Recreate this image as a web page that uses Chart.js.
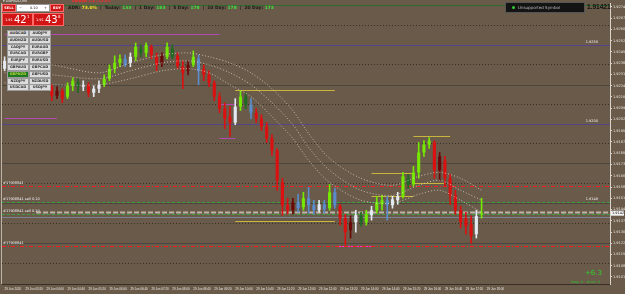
<!DOCTYPE html>
<html>
<head>
<meta charset="utf-8">
<script src="https://cdn.jsdelivr.net/npm/chart.js@4.4.0/dist/chart.umd.min.js"></script>
<style>
  html, body { margin: 0; padding: 0; background: #6a5a49; overflow: hidden; }
  #wrap { position: relative; width: 625px; height: 294px; }
  #chart { position: absolute; left: 0; top: 0; }
  .ov { position: absolute; font-family: "DejaVu Sans", sans-serif; white-space: nowrap; line-height: 1; }
  .btn { position: absolute; width: 20px; height: 5px; background: #dcdcdc; border: 1px solid #9a9a9a;
         font: bold 3.5px "DejaVu Sans", sans-serif; color: #333; text-align: center; line-height: 5px; }
  .btn.on { background: #1f7a1f; color: #b8d040; }
  .red { position: absolute; background: #d11414; border: 1px solid #ff6a6a; color: #fff; }
</style>
</head>
<body>
<div id="wrap">
  <canvas id="chart" width="625" height="294"></canvas>

  <div class="ov" style="left:3px;top:0px;font-size:3.5px;color:#eee">&#9662; GBPNZD,M5</div>
  <div class="ov" style="left:72px;top:0px;font-size:3.5px;color:#ff2a2a;font-weight:bold">Spread: 1.6 | 13.5%</div>

  <div class="red" style="left:2px;top:4px;width:12px;height:6px;font:bold 3.5px 'DejaVu Sans';text-align:center;line-height:6px">SELL</div>
  <div class="ov" style="left:16px;top:4px;width:32px;height:6px;background:#fff;border:1px solid #999;font-size:3.5px;color:#222;line-height:6px">
    <span style="position:absolute;left:2px">&minus;</span><span style="position:absolute;left:13px">0.10</span><span style="position:absolute;right:2px">+</span>
  </div>
  <div class="red" style="left:50px;top:4px;width:12px;height:6px;font:bold 3.5px 'DejaVu Sans';text-align:center;line-height:6px">BUY</div>
  <div class="red" style="left:2px;top:13px;width:29px;height:11px">
    <span class="ov" style="left:2px;top:5px;font-size:3.5px">1.91</span>
    <span class="ov" style="left:11px;top:1px;font-size:10px">42</span>
    <span class="ov" style="left:24px;top:1px;font-size:4px">1</span>
  </div>
  <div class="red" style="left:33px;top:13px;width:29px;height:11px">
    <span class="ov" style="left:2px;top:5px;font-size:3.5px">1.91</span>
    <span class="ov" style="left:11px;top:1px;font-size:10px">43</span>
    <span class="ov" style="left:24px;top:1px;font-size:4px">8</span>
  </div>

  <div class="ov" style="left:68px;top:6px;font-size:4.4px;font-weight:bold;color:#1a1a1a">
    ADR: <span style="color:#f0e020">73.0%</span> &nbsp;|&nbsp; Today: <span style="color:#3fe03f">133</span>
    &nbsp;|&nbsp; 1 Day: <span style="color:#3fe03f">183</span> &nbsp;|&nbsp; 5 Day: <span style="color:#3fe03f">178</span>
    &nbsp;|&nbsp; 10 Day: <span style="color:#3fe03f">178</span> &nbsp;|&nbsp; 20 Day: <span style="color:#3fe03f">173</span>
  </div>

  <div class="ov" style="left:505px;top:2px;width:78px;height:9px;background:#141414;border:1px solid #555;font-size:4px;color:#bbb;line-height:9px">
    <span style="display:inline-block;width:3px;height:3px;border-radius:2px;background:#3c3;margin:0 3px 0 6px"></span>Unsupported Symbol
  </div>
  <div class="ov" style="left:587px;top:3px;font:bold 6.5px 'Liberation Sans', sans-serif;color:#111">1.91421</div>

  <div class="ov" style="left:585px;top:270px;font-size:7px;color:#2fd02f">+6.3</div>
  <div class="ov" style="left:571px;top:281px;font-size:3.5px;color:#2fc02f">long: 0 &nbsp; short: 0</div>

  <div id="buttons"></div>
</div>

<script>
// 10-minute candles, GBPNZD
const open = [1.92349, 1.92387, 1.92362, 1.92323, 1.92336, 1.92298, 1.92310, 1.92272, 1.92285, 1.92234,
  1.92176, 1.92208, 1.92170, 1.92240, 1.92259, 1.92234, 1.92246, 1.92195, 1.92221, 1.92246,
  1.92285, 1.92349, 1.92387, 1.92413, 1.92387, 1.92426, 1.92477, 1.92451, 1.92490, 1.92426,
  1.92387, 1.92426, 1.92477, 1.92432, 1.92362, 1.92336, 1.92374, 1.92413, 1.92349, 1.92310,
  1.92259, 1.92170, 1.92093, 1.92042, 1.92003, 1.92106, 1.92170, 1.92118, 1.92067, 1.92029,
  1.91978, 1.91901, 1.91824, 1.91619, 1.91472, 1.91440, 1.91491, 1.91459, 1.91517, 1.91472,
  1.91440, 1.91478, 1.91453, 1.91555, 1.91466, 1.91389, 1.91312, 1.91363, 1.91402, 1.91363,
  1.91408, 1.91440, 1.91478, 1.91504, 1.91472, 1.91504, 1.91530, 1.91645, 1.91606, 1.91683,
  1.91811, 1.91862, 1.91875, 1.91696, 1.91760, 1.91645, 1.91536, 1.91440, 1.91389, 1.91350,
  1.91286, 1.91414];
const high = [1.92426, 1.92413, 1.92387, 1.92362, 1.92349, 1.92336, 1.92323, 1.92310, 1.92298, 1.92246,
  1.92234, 1.92221, 1.92259, 1.92291, 1.92285, 1.92272, 1.92259, 1.92240, 1.92272, 1.92310,
  1.92374, 1.92432, 1.92438, 1.92438, 1.92451, 1.92515, 1.92502, 1.92515, 1.92502, 1.92451,
  1.92451, 1.92515, 1.92502, 1.92451, 1.92400, 1.92400, 1.92464, 1.92438, 1.92374, 1.92336,
  1.92272, 1.92195, 1.92131, 1.92106, 1.92157, 1.92208, 1.92195, 1.92157, 1.92093, 1.92054,
  1.92003, 1.91926, 1.91837, 1.91645, 1.91517, 1.91517, 1.91542, 1.91555, 1.91587, 1.91504,
  1.91504, 1.91504, 1.91606, 1.91581, 1.91478, 1.91414, 1.91402, 1.91440, 1.91427, 1.91440,
  1.91466, 1.91530, 1.91536, 1.91530, 1.91530, 1.91555, 1.91683, 1.91670, 1.91722, 1.91875,
  1.91888, 1.91907, 1.91888, 1.91811, 1.91786, 1.91670, 1.91568, 1.91466, 1.91427, 1.91402,
  1.91440, 1.91517];
const low = [1.92336, 1.92336, 1.92304, 1.92285, 1.92272, 1.92272, 1.92246, 1.92246, 1.92208, 1.92144,
  1.92157, 1.92131, 1.92157, 1.92208, 1.92195, 1.92208, 1.92170, 1.92170, 1.92195, 1.92234,
  1.92272, 1.92323, 1.92362, 1.92362, 1.92362, 1.92400, 1.92426, 1.92426, 1.92413, 1.92336,
  1.92362, 1.92413, 1.92413, 1.92349, 1.92221, 1.92310, 1.92362, 1.92246, 1.92272, 1.92234,
  1.92144, 1.92067, 1.91965, 1.91914, 1.91990, 1.92080, 1.92093, 1.92029, 1.92003, 1.91952,
  1.91875, 1.91792, 1.91568, 1.91408, 1.91414, 1.91414, 1.91427, 1.91440, 1.91421, 1.91414,
  1.91427, 1.91421, 1.91440, 1.91453, 1.91344, 1.91216, 1.91261, 1.91299, 1.91338, 1.91344,
  1.91376, 1.91421, 1.91440, 1.91376, 1.91453, 1.91478, 1.91517, 1.91581, 1.91594, 1.91645,
  1.91786, 1.91837, 1.91645, 1.91632, 1.91594, 1.91478, 1.91414, 1.91325, 1.91286, 1.91229,
  1.91261, 1.91389];
const close = [1.92400, 1.92362, 1.92323, 1.92336, 1.92298, 1.92310, 1.92272, 1.92285, 1.92234, 1.92176,
  1.92208, 1.92157, 1.92240, 1.92272, 1.92234, 1.92246, 1.92195, 1.92221, 1.92246, 1.92285,
  1.92349, 1.92387, 1.92413, 1.92374, 1.92426, 1.92490, 1.92451, 1.92502, 1.92438, 1.92374,
  1.92432, 1.92490, 1.92426, 1.92368, 1.92323, 1.92374, 1.92426, 1.92336, 1.92310, 1.92259,
  1.92170, 1.92093, 1.92029, 1.92003, 1.92106, 1.92170, 1.92118, 1.92067, 1.92029, 1.91978,
  1.91901, 1.91824, 1.91632, 1.91472, 1.91440, 1.91491, 1.91453, 1.91517, 1.91472, 1.91440,
  1.91478, 1.91446, 1.91555, 1.91472, 1.91389, 1.91299, 1.91363, 1.91408, 1.91363, 1.91414,
  1.91440, 1.91491, 1.91504, 1.91472, 1.91510, 1.91530, 1.91658, 1.91606, 1.91683, 1.91811,
  1.91862, 1.91888, 1.91696, 1.91786, 1.91645, 1.91536, 1.91440, 1.91363, 1.91338, 1.91274,
  1.91402, 1.91421];

// time axis labels, one every 4 candles
const timeTicks = ['29 Jun 2020', '29 Jun 03:20', '29 Jun 04:00', '29 Jun 04:40', '29 Jun 05:20', '29 Jun 06:00',
  '29 Jun 06:40', '29 Jun 07:20', '29 Jun 08:00', '29 Jun 08:40', '29 Jun 09:20', '29 Jun 10:00',
  '29 Jun 10:40', '29 Jun 11:20', '29 Jun 12:00', '29 Jun 12:40', '29 Jun 13:20', '29 Jun 14:00',
  '29 Jun 14:40', '29 Jun 15:20', '29 Jun 16:00', '29 Jun 16:40', '29 Jun 17:20', '29 Jun 18:00'];
const priceTicks = [1.92746, 1.92674, 1.92602, 1.92529, 1.92457, 1.92385, 1.92312, 1.92240, 1.92168,
  1.92096, 1.92023, 1.91951, 1.91879, 1.91806, 1.91734, 1.91662, 1.91589, 1.91517, 1.91445,
  1.91372, 1.91300, 1.91228, 1.91156, 1.91083, 1.91011];

// envelope bands (dotted), read at a few candles
const bandIdx = [0, 9, 18, 24, 30, 35, 39, 43, 47, 51, 55, 58, 62, 68, 74, 79, 83, 87, 91];
const bandUpper = [1.92387, 1.92374, 1.92323, 1.92387, 1.92438, 1.92451, 1.92426, 1.92387, 1.92323, 1.92221,
  1.92080, 1.91933, 1.91773, 1.91645, 1.91600, 1.91658, 1.91683, 1.91645, 1.91568];
const bandMid = [1.92323, 1.92310, 1.92285, 1.92336, 1.92387, 1.92400, 1.92374, 1.92323, 1.92246, 1.92131,
  1.91990, 1.91843, 1.91696, 1.91568, 1.91536, 1.91600, 1.91632, 1.91568, 1.91504];
const bandLower = [1.92259, 1.92246, 1.92246, 1.92285, 1.92336, 1.92349, 1.92323, 1.92246, 1.92170, 1.92042,
  1.91901, 1.91760, 1.91619, 1.91504, 1.91485, 1.91542, 1.91568, 1.91504, 1.91427];

// horizontal levels
const dottedLevels = [1.92630, 1.92381, 1.92125, 1.91869, 1.91613, 1.91357, 1.91101];
const solidLevels = [1.92246, 1.91741, 1.91485, 1.91229];
const purpleLevels = [1.92502, 1.91997];
const topLevel = 1.92758;
const redLevels = [1.91594, 1.91210];
const greenLevels = [1.91491, 1.91414];
const bidLevel = 1.91427;
const slateLevel = 1.91395;
// [price, from candle, to candle]
const yellowSegs = [[1.92214, 44, 63], [1.91370, 44, 63], [1.91677, 70, 78], [1.91530, 70, 78],
  [1.91914, 78, 85], [1.91613, 78, 84]];
const magentaSegs = [[1.92573, 0, 41], [1.92035, 0, 10], [1.92125, 41, 44], [1.91907, 41, 44], [1.91210, 63, 70]];

const symbols = ['AUDCAD', 'AUDJPY', 'AUDNZD', 'AUDUSD', 'CADJPY', 'EURAUD', 'EURCAD', 'EURGBP', 'EURJPY',
  'EURUSD', 'GBPAUD', 'GBPCAD', 'GBPNZD', 'GBPUSD', 'NZDJPY', 'NZDUSD', 'USDCAD', 'USDJPY'];

const slots = 116;

const btnBox = document.getElementById('buttons');
symbols.forEach((s, i) => {
  const b = document.createElement('div');
  b.className = 'btn' + (s === 'GBPNZD' ? ' on' : '');
  b.style.left = (7 + (i % 2) * 22) + 'px';
  b.style.top = (30 + Math.floor(i / 2) * 6.8) + 'px';
  b.textContent = s;
  btnBox.appendChild(b);
});

function candleColor(i) {
  const up = close[i] >= open[i];
  const d = close[i] - close[Math.max(0, i - 3)];
  if (d > 0.0004) return up ? '#74e800' : '#1d6a22';
  if (d < -0.0004) return up ? '#6a0808' : '#dc1010';
  return up ? '#e4eaf2' : '#5a8ccc';
}
const colors = open.map((o, i) => candleColor(i));

const band = (vals) => vals.map((v, j) => ({ x: bandIdx[j], y: v }));
const bandStyle = {
  type: 'line', borderColor: 'rgba(228,218,205,0.75)', borderWidth: 1, borderDash: [1, 2],
  pointRadius: 0, tension: 0.3, order: 0
};

const levels = {
  id: 'levels',
  beforeDatasetsDraw(chart) {
    const { ctx, chartArea: a, scales: { x, y } } = chart;
    const line = (price, color, dash, w, x0, x1) => {
      const py = Math.round(y.getPixelForValue(price)) + 0.5;
      ctx.save();
      ctx.strokeStyle = color;
      ctx.lineWidth = w;
      ctx.setLineDash(dash);
      ctx.beginPath();
      ctx.moveTo(x0 === undefined ? a.left : x0, py);
      ctx.lineTo(x1 === undefined ? a.right : x1, py);
      ctx.stroke();
      ctx.restore();
    };
    dottedLevels.forEach(p => line(p, '#3a2f26', [1, 2], 1));
    solidLevels.forEach(p => line(p, '#4b463e', [], 1));
    purpleLevels.forEach(p => line(p, '#54458a', [], 1));
    line(topLevel, '#2f6a2f', [], 1);
    magentaSegs.forEach(s => line(s[0], s[0] < 1.9125 ? '#ff2fc8' : '#b04ab0', [], 1,
      x.getPixelForValue(s[1]), x.getPixelForValue(s[2])));
    yellowSegs.forEach(s => line(s[0], '#c9b43c', [], 1, x.getPixelForValue(s[1]), x.getPixelForValue(s[2])));
    redLevels.forEach(p => line(p, '#ff1c1c', [4, 2, 1, 2], 1));
    greenLevels.forEach(p => line(p, '#3d9e3d', [3, 2], 1));
    line(slateLevel, '#7c8494', [], 1);
    line(bidLevel, '#bdb5aa', [5, 2], 2, x.getPixelForValue(6));
    // left border
    ctx.save();
    ctx.strokeStyle = '#bcb4a8';
    ctx.beginPath(); ctx.moveTo(a.left - 0.5, a.top); ctx.lineTo(a.left - 0.5, a.bottom); ctx.stroke();
    ctx.restore();
  },
  afterDatasetsDraw(chart) {
    const { ctx, chartArea: a, scales: { y } } = chart;
    ctx.save();
    ctx.font = '3.5px "DejaVu Sans"';
    ctx.fillStyle = '#f0f0f0';
    ctx.textBaseline = 'bottom';
    redLevels.forEach(p => ctx.fillText('#17908841', a.left + 1, y.getPixelForValue(p) - 1));
    greenLevels.forEach(p => ctx.fillText('#17908841 sell 0.10', a.left + 1, y.getPixelForValue(p) - 1));
    ctx.textAlign = 'right';
    purpleLevels.forEach(p => ctx.fillText(p.toFixed(4), a.right - 12, y.getPixelForValue(p) - 1));
    ctx.fillText(greenLevels[0].toFixed(4), a.right - 12, y.getPixelForValue(greenLevels[0]) - 1);
    // current price tag
    const last = close[close.length - 1];
    const py = y.getPixelForValue(last);
    ctx.fillStyle = '#f4f4f4';
    ctx.fillRect(a.right + 1, py - 2.5, 13, 5);
    ctx.fillStyle = '#111';
    ctx.textAlign = 'left';
    ctx.textBaseline = 'middle';
    ctx.fillText(last.toFixed(5), a.right + 2, py);
    ctx.restore();
  }
};

new Chart(document.getElementById('chart'), {
  type: 'bar',
  data: {
    datasets: [
      { data: open.map((o, i) => ({ x: i, y: [o, close[i]] })), backgroundColor: colors,
        barPercentage: 0.6, categoryPercentage: 1, grouped: false, minBarLength: 1, order: 1 },
      { data: low.map((l, i) => ({ x: i, y: [l, high[i]] })), backgroundColor: colors,
        barThickness: 1, grouped: false, order: 2 },
      Object.assign({ data: band(bandUpper) }, bandStyle),
      Object.assign({ data: band(bandMid) }, bandStyle),
      Object.assign({ data: band(bandLower) }, bandStyle)
    ]
  },
  options: {
    responsive: false,
    animation: false,
    layout: { padding: { left: 2, top: 2, right: 0, bottom: 0 } },
    plugins: { legend: { display: false }, tooltip: { enabled: false } },
    scales: {
      x: {
        type: 'linear', min: -0.5, max: slots - 0.5, offset: false,
        grid: { display: false, drawTicks: false, tickLength: 0 },
        border: { color: '#3a2f26' },
        afterBuildTicks: s => { s.ticks = timeTicks.map((t, k) => ({ value: k * 4 })); },
        afterFit: s => { s.height = 10; },
        ticks: { callback: v => timeTicks[v / 4], color: '#ece8e2', font: { size: 3, family: 'Liberation Sans' },
          maxRotation: 0, autoSkip: false, align: 'start', padding: 3 }
      },
      y: {
        position: 'right', min: 1.90966, max: 1.92771,
        grid: { drawOnChartArea: false, tickLength: 2, color: '#d8d4cc' },
        border: { color: '#d8d4cc' },
        afterBuildTicks: s => { s.ticks = priceTicks.map(v => ({ value: v })); },
        afterFit: s => { s.width = 15; },
        ticks: { callback: v => v.toFixed(5), color: '#e6e2dc', font: { size: 3.5, family: 'DejaVu Sans' }, padding: 1 }
      }
    }
  },
  plugins: [levels]
});
</script>
</body>
</html>
